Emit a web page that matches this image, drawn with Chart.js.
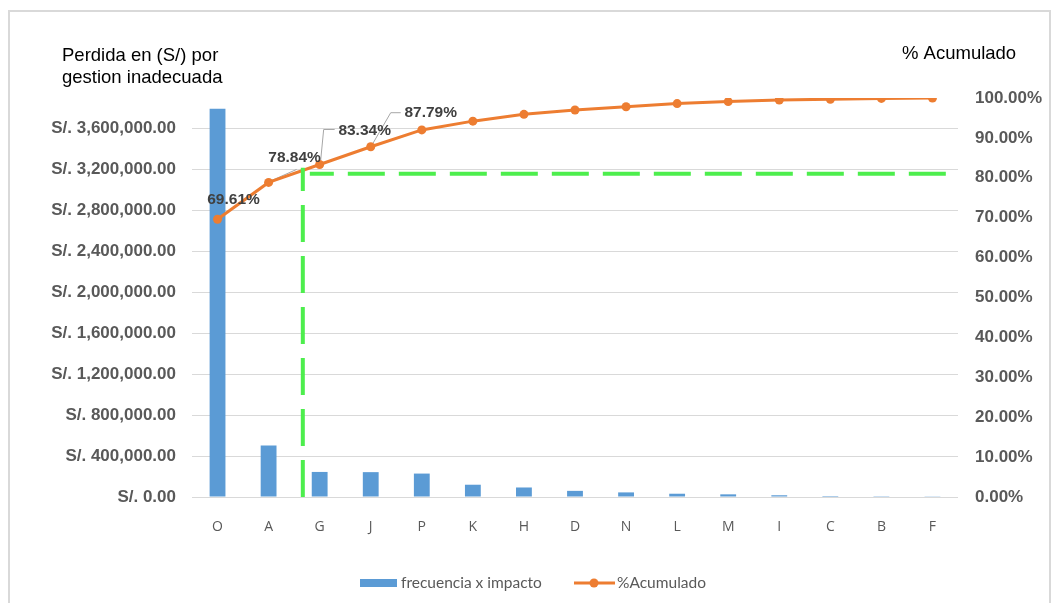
<!DOCTYPE html>
<html>
<head>
<meta charset="utf-8">
<title>Pareto - perdida por gestion inadecuada</title>
<script src="https://cdn.jsdelivr.net/npm/chart.js@4.4.1/dist/chart.umd.min.js"></script>
<style>
    html, body { margin: 0; padding: 0; background: #fff; }
    #wrap { position: relative; width: 1057px; height: 603px; overflow: hidden; }
    #frame { position: absolute; left: 8px; top: 10px; width: 1043px; height: 640px; border: 2px solid #d9d9d9; box-sizing: border-box; }
    #pareto { position: absolute; left: 0; top: 0; }
</style>
</head>
<body>
<div id="wrap">
    <div id="frame"></div>
    <canvas id="pareto" width="1057" height="603"></canvas>
</div>
<script>
// --- Data ---
const categories = ['O', 'A', 'G', 'J', 'P', 'K', 'H', 'D', 'N', 'L', 'M', 'I', 'C', 'B', 'F'];
const lossValues = [3795000, 503000, 245000, 243000, 229000, 120000, 93000, 60000, 45000, 32000, 26000, 17000, 10000, 8000, 7000];
const cumulativePct = [69.61, 78.84, 83.34, 87.79, 92.0, 94.2, 95.9, 97.0, 97.8, 98.6, 99.1, 99.5, 99.7, 99.9, 100];
const labelledPoints = [0, 1, 2, 3];

const lossTicks = [0, 400000, 800000, 1200000, 1600000, 2000000, 2400000, 2800000, 3200000, 3600000];
const pctTicks = [0, 10, 20, 30, 40, 50, 60, 70, 80, 90, 100];
const lossAxisMax = 3900000;

// cut-off guide: category position of the vertical, and its height / level on the % axis
const cutoffIndex = 1.67;
const cutoffTop = 82.5;
const cutoffLevel = 81;

const leftTitle = ['Perdida en (S/) por', 'gestion inadecuada'];
const rightTitle = '% Acumulado';
const barLabel = 'frecuencia x impacto';
const lineLabel = '%Acumulado';

// --- Helpers ---
const GREY_TEXT = '#595959';
const BLUE = '#5B9BD5';
const ORANGE = '#ED7D31';
const GREEN = '#4DEE4D';

function formatSoles(v) {
    if (v === 0) return 'S/. 0.00';
    return 'S/. ' + v.toLocaleString('en-US', { minimumFractionDigits: 2, maximumFractionDigits: 2 });
}

// label offsets (px) from each point, plus leader line path
const labelLayout = [
    { dx: 16, dy: -20, leader: null },
    { dx: 26, dy: -25, leader: [[1, -1], [28, -13]] },
    { dx: 45, dy: -34, leader: [[15, -35], [4, -35], [1, -4]] },
    { dx: 60, dy: -34, leader: [[30, -34], [20, -34], [2, -3]] }
];

const paretoExtras = {
    id: 'paretoExtras',
    beforeDatasetsDraw(chart) {
        const ctx = chart.ctx;
        const meta = chart.getDatasetMeta(1);
        ctx.save();
        ctx.strokeStyle = '#a6a6a6';
        ctx.lineWidth = 1;
        labelledPoints.forEach((idx, i) => {
            const lay = labelLayout[i];
            if (!lay.leader) return;
            const p = meta.data[idx];
            ctx.beginPath();
            lay.leader.forEach(([dx, dy], k) => {
                if (k === 0) ctx.moveTo(p.x + dx, p.y + dy);
                else ctx.lineTo(p.x + dx, p.y + dy);
            });
            ctx.stroke();
        });
        ctx.restore();
    },
    afterDatasetsDraw(chart) {
        const ctx = chart.ctx;
        const x = chart.scales.x;
        const yPct = chart.scales.yPct;
        const area = chart.chartArea;

        // cut-off guide lines
        ctx.save();
        ctx.strokeStyle = GREEN;
        ctx.lineWidth = 4;
        ctx.setLineDash([37, 14]);
        const vx = x.getPixelForValue(cutoffIndex);
        ctx.beginPath();
        ctx.moveTo(vx, area.bottom);
        ctx.lineTo(vx, yPct.getPixelForValue(cutoffTop));
        ctx.stroke();
        ctx.lineDashOffset = 13;
        ctx.beginPath();
        ctx.moveTo(vx + 7, yPct.getPixelForValue(cutoffLevel));
        ctx.lineTo(area.right, yPct.getPixelForValue(cutoffLevel));
        ctx.stroke();
        ctx.restore();

        // value labels on the first cumulative points
        const meta = chart.getDatasetMeta(1);
        ctx.save();
        ctx.font = 'bold 15.5px "Liberation Sans", Arial, sans-serif';
        ctx.fillStyle = '#404040';
        ctx.textAlign = 'center';
        ctx.textBaseline = 'middle';
        labelledPoints.forEach((idx, i) => {
            const p = meta.data[idx];
            const lay = labelLayout[i];
            ctx.fillText(cumulativePct[idx].toFixed(2) + '%', p.x + lay.dx, p.y + lay.dy);
        });
        ctx.restore();
    },
    afterDraw(chart) {
        const ctx = chart.ctx;
        ctx.save();
        // axis titles
        ctx.font = '18.5px "Liberation Sans", Arial, sans-serif';
        ctx.fillStyle = '#000';
        ctx.textBaseline = 'alphabetic';
        ctx.textAlign = 'left';
        ctx.fillText(leftTitle[0], 62, 61);
        ctx.fillText(leftTitle[1], 62, 83);
        ctx.fillText(rightTitle, 902, 59);

        // legend
        const ly = 583;
        ctx.fillStyle = BLUE;
        ctx.fillRect(360, ly - 4, 37, 8);
        ctx.strokeStyle = ORANGE;
        ctx.lineWidth = 3;
        ctx.beginPath();
        ctx.moveTo(574, ly);
        ctx.lineTo(615, ly);
        ctx.stroke();
        ctx.fillStyle = ORANGE;
        ctx.beginPath();
        ctx.arc(594, ly, 4.5, 0, Math.PI * 2);
        ctx.fill();
        ctx.font = '15.5px Lato, "Open Sans", sans-serif';
        ctx.fillStyle = GREY_TEXT;
        ctx.textBaseline = 'middle';
        ctx.fillText(barLabel, 401, ly);
        ctx.fillText(lineLabel, 617, ly);
        ctx.restore();
    }
};

// --- Chart ---
const ctx = document.getElementById('pareto').getContext('2d');
new Chart(ctx, {
    type: 'bar',
    data: {
        labels: categories,
        datasets: [{
            type: 'bar',
            label: barLabel,
            data: lossValues,
            backgroundColor: BLUE,
            yAxisID: 'yLoss',
            barPercentage: 0.31,
            categoryPercentage: 1,
            order: 2
        }, {
            type: 'line',
            label: lineLabel,
            data: cumulativePct,
            borderColor: ORANGE,
            backgroundColor: ORANGE,
            borderWidth: 3,
            pointRadius: 4.5,
            pointBorderWidth: 0,
            pointBackgroundColor: ORANGE,
            tension: 0,
            yAxisID: 'yPct',
            order: 1
        }]
    },
    options: {
        responsive: false,
        animation: false,
        devicePixelRatio: 1,
        layout: { padding: { left: 8, top: 98, right: 0, bottom: 0 } },
        plugins: {
            legend: { display: false },
            tooltip: { enabled: false }
        },
        scales: {
            x: {
                grid: { display: false },
                border: { display: false },
                ticks: {
                    color: GREY_TEXT,
                    padding: 14,
                    font: { family: '"Open Sans", sans-serif', size: 14 }
                },
                afterFit: s => { s.height = 106; }
            },
            yLoss: {
                position: 'left',
                min: 0,
                max: lossAxisMax,
                grid: { color: '#d9d9d9', lineWidth: 1, drawTicks: false },
                border: { display: false },
                ticks: {
                    color: GREY_TEXT,
                    padding: 16,
                    font: { family: '"Liberation Sans", Arial, sans-serif', size: 17, weight: 'bold' },
                    callback: v => formatSoles(v)
                },
                afterBuildTicks: s => { s.ticks = lossTicks.map(v => ({ value: v })); },
                afterFit: s => { s.width = 184; }
            },
            yPct: {
                position: 'right',
                min: 0,
                max: 100,
                grid: { display: false, drawTicks: false },
                border: { display: false },
                ticks: {
                    color: GREY_TEXT,
                    padding: 17,
                    font: { family: '"Liberation Sans", Arial, sans-serif', size: 17, weight: 'bold' },
                    callback: v => v.toFixed(2) + '%'
                },
                afterBuildTicks: s => { s.ticks = pctTicks.map(v => ({ value: v })); },
                afterFit: s => { s.width = 99; }
            }
        }
    },
    plugins: [paretoExtras]
});
</script>
</body>
</html>
